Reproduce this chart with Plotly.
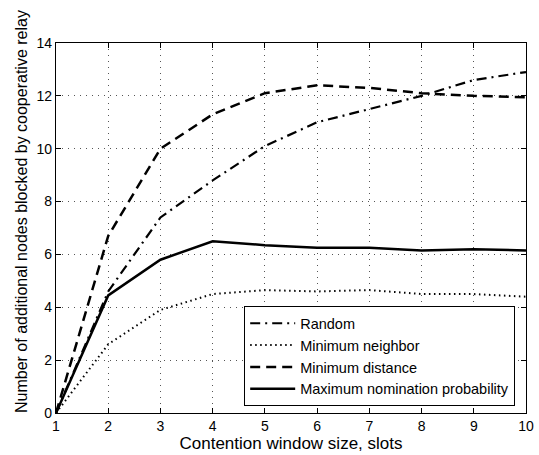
import plotly.graph_objects as go

x = [1, 2, 3, 4, 5, 6, 7, 8, 9, 10]
random_v = [0, 4.6, 7.4, 8.8, 10.1, 11.0, 11.5, 12.0, 12.6, 12.9]
min_neighbor = [0, 2.6, 3.9, 4.5, 4.65, 4.6, 4.65, 4.5, 4.5, 4.4]
min_distance = [0, 6.7, 10.0, 11.3, 12.1, 12.4, 12.3, 12.1, 12.0, 11.95]
max_nomination = [0, 4.45, 5.8, 6.5, 6.35, 6.25, 6.25, 6.15, 6.2, 6.15]

names = ["Random", "Minimum neighbor", "Minimum distance", "Maximum nomination probability"]
series = [random_v, min_neighbor, min_distance, max_nomination]
dashes = ["10px,5px,2px,5px", "1.5px,3.5px", "10px,6px", "solid"]
widths = [2.2, 2, 2.5, 2.5]

fig = go.Figure()
for n, s, d, w in zip(names, series, dashes, widths):
    fig.add_trace(go.Scatter(x=x, y=s, mode="lines", name=n,
                             line=dict(color="black", dash=d, width=w)))

axis_common = dict(showline=True, linecolor="black", linewidth=1.3, mirror="ticks",
                   ticks="inside", ticklen=5, tickcolor="black", automargin=False,
                   showgrid=True, gridcolor="#555555", griddash="1px,5px", gridwidth=1,
                   zeroline=False, tickfont=dict(family="Liberation Sans, Arial", size=14, color="black"))

fig.update_layout(
    width=539, height=455,
    margin=dict(l=56, r=13, t=43, b=42),
    paper_bgcolor="white", plot_bgcolor="white",
    font=dict(family="Liberation Sans, Arial", size=14, color="black"),
    xaxis=dict(range=[1, 10], tickmode="array", tickvals=x,
               title=dict(text="Contention window size, slots", font=dict(size=17), standoff=1),
               **axis_common),
    yaxis=dict(range=[0, 14], tickmode="array", tickvals=[0, 2, 4, 6, 8, 10, 12, 14],
               **axis_common),
    legend=dict(x=0.977, y=0.018, xanchor="right", yanchor="bottom",
                bgcolor="white", bordercolor="black", borderwidth=1,
                font=dict(size=14.5), tracegroupgap=0, itemwidth=45),
    showlegend=True,
)

fig.add_annotation(text="Number of additional nodes blocked by cooperative relay",
                   textangle=-90, font=dict(size=16),
                   xref="paper", yref="paper", x=-0.0745, y=0.5 + 17 / 370,
                   xanchor="center", yanchor="middle", showarrow=False)

fig.write_html("out.html")
